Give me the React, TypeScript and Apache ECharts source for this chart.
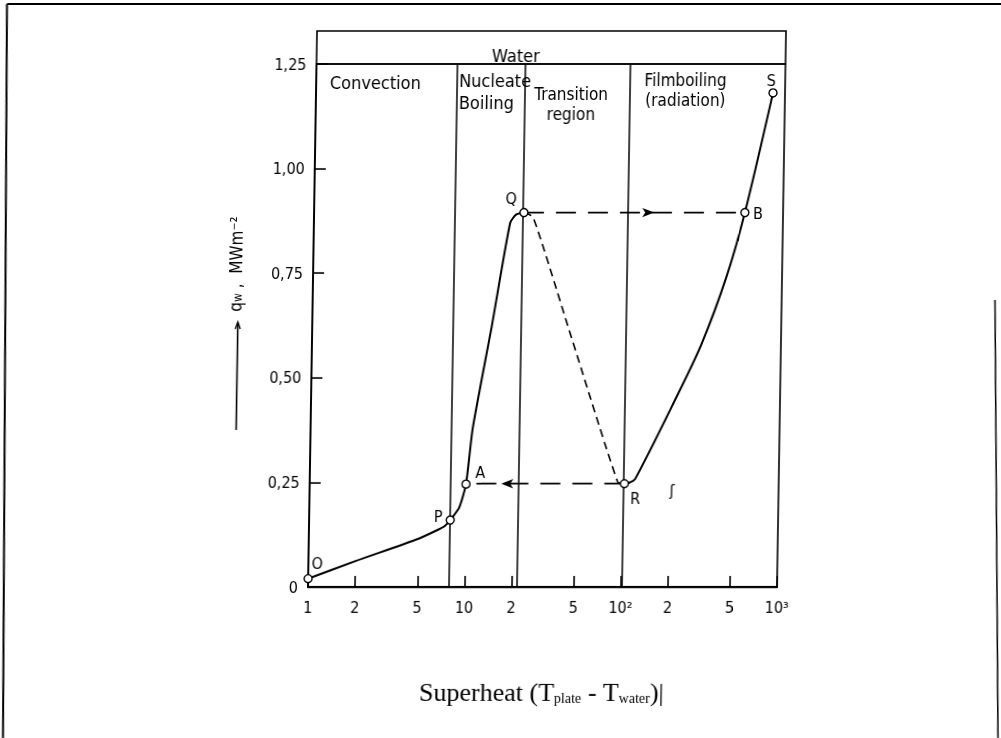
import React, { useEffect, useRef } from 'react';
import * as echarts from 'echarts';

// ---- layout constants (the scan is slightly sheared; we reproduce it with a CSS skew) ----
const OFF = 30; // canvas extends beyond the viewport so the sheared content is not clipped
const SKEW_DEG = 0.93;
const TAN = Math.tan((SKEW_DEG * Math.PI) / 180);
const AXIS_Y = 587; // page y of the x axis (skew origin)
const W = 1001 + 2 * OFF;
const H = 738;

// ---- data ----
const xTickValues = [1, 2, 5, 10, 20, 50, 100, 200, 500, 1000];
const xTickLabels = ['1', '2', '5', '10', '2', '5', '10²', '2', '5', '10³'];
const yTickLabels = ['0', '0,25', '0,50', '0,75', '1,00', '1,25'];
const regionBounds = [7.9, 21.8, 102];

const pointNames = ['O', 'P', 'A', 'Q', 'R', 'B', 'S'];
const pointX = [1, 8, 10, 22, 103, 570, 838];
const pointY = [0.02, 0.16, 0.246, 0.895, 0.247, 0.895, 1.181];

const nucleateX = [1, 2, 5, 6.7, 7.4, 8, 9.1, 10, 10.9, 14.1, 18, 19.6, 22];
const nucleateY = [0.02, 0.062, 0.115, 0.137, 0.146, 0.16, 0.19, 0.246, 0.38, 0.625, 0.87, 0.89, 0.895];
const transitionX = [22, 25.2, 45.3, 93.3, 103];
const transitionY = [0.895, 0.884, 0.6, 0.251, 0.247];
const filmX = [103, 112, 120.5, 213, 310, 440, 570, 838];
const filmY = [0.247, 0.25, 0.258, 0.447, 0.58, 0.74, 0.895, 1.181];
const qbX = [22, 570];
const qbY = [0.895, 0.895];
const raX = [103, 10];
const raY = [0.247, 0.247];
const arrowX = [150, 16.8];
const arrowY = [0.895, 0.247];

// ---- styles ----
const arrowRotate = [-90, 90];
const labelOffsets: Record<string, number[]> = {
  O: [9, -15],
  P: [-12, -4],
  A: [14, -12],
  Q: [-13, -14],
  R: [11, 15],
  B: [13, 1],
  S: [-2, -12],
};
const FONT = "'DejaVu Sans Condensed', 'DejaVu Sans', sans-serif";
const SERIF = "'Liberation Serif', 'DejaVu Serif', serif";

const zip = (xs: number[], ys: number[]) => xs.map((x, i) => [x, ys[i]]);
// convert a measured page position into pre-skew canvas x
const sx = (x: number, y: number) => x - (AXIS_Y - y) * TAN + OFF;

export default function App() {
  const ref = useRef<HTMLDivElement>(null);

  useEffect(() => {
    document.body.style.margin = '0';
    document.body.style.overflow = 'hidden';
    document.documentElement.style.overflow = 'hidden';
    const el = ref.current;
    if (!el) return;
    const chart = echarts.init(el, null, { renderer: 'svg' });
    const xTickLogs = xTickValues.map((v) => Math.log10(v));

    const txt = (text: string, x: number, y: number, align: string, size = 18, lineHeight = 18) => ({
      type: 'text',
      x,
      y,
      style: {
        text,
        fill: '#000',
        fontSize: size,
        fontFamily: FONT,
        lineHeight,
        align,
        verticalAlign: 'middle',
      },
    });

    const option: any = {
      animation: false,
      backgroundColor: '#fff',
      textStyle: { fontFamily: FONT, color: '#000' },
      grid: {
        left: sx(308, AXIS_Y),
        right: W - sx(777, AXIS_Y),
        top: 64,
        bottom: H - AXIS_Y,
        show: true,
        borderColor: '#000',
        borderWidth: 1.6,
        backgroundColor: 'transparent',
      },
      xAxis: [
        {
          type: 'log',
          logBase: 10,
          min: 1,
          max: 1000,
          axisLine: { show: true, onZero: false, lineStyle: { color: '#000', width: 2.2 } },
          axisTick: { show: false },
          axisLabel: { show: false },
          splitLine: { show: false },
          minorTick: { show: false },
        },
        {
          type: 'value',
          min: 0,
          max: 3,
          position: 'bottom',
          axisLine: { show: false },
          axisTick: {
            show: true,
            inside: true,
            length: 11,
            customValues: xTickLogs,
            lineStyle: { color: '#000', width: 1.6 },
          },
          axisLabel: {
            customValues: xTickLogs,
            color: '#000',
            fontSize: 16,
            fontFamily: FONT,
            margin: 12,
            formatter: (v: number) => {
              const i = xTickLogs.findIndex((t) => Math.abs(t - v) < 1e-6);
              return i >= 0 ? xTickLabels[i] : '';
            },
          },
          splitLine: { show: false },
        },
      ],
      yAxis: {
        type: 'value',
        min: 0,
        max: 1.25,
        interval: 0.25,
        axisLine: { show: true, lineStyle: { color: '#000', width: 1.8 } },
        axisTick: { show: true, inside: true, length: 11, lineStyle: { color: '#000', width: 1.6 } },
        axisLabel: {
          color: '#000',
          fontSize: 16,
          fontFamily: FONT,
          margin: 10,
          formatter: (_v: number, i: number) => yTickLabels[i],
        },
        splitLine: { show: false },
      },
      series: [
        {
          name: 'nucleate',
          type: 'line',
          xAxisIndex: 0,
          data: zip(nucleateX, nucleateY),
          showSymbol: false,
          symbol: 'none',
          smooth: 0.2,
          lineStyle: { color: '#000', width: 2 },
          markLine: {
            silent: true,
            symbol: 'none',
            label: { show: false },
            lineStyle: { color: '#000', type: 'solid', width: 1.5 },
            data: regionBounds.map((b) => ({ xAxis: b })),
          },
        },
        {
          name: 'transition',
          type: 'line',
          xAxisIndex: 0,
          data: zip(transitionX, transitionY),
          showSymbol: false,
          symbol: 'none',
          smooth: 0.2,
          lineStyle: { color: '#000', width: 1.6, type: [8, 5] },
        },
        {
          name: 'film',
          type: 'line',
          xAxisIndex: 0,
          data: zip(filmX, filmY),
          showSymbol: false,
          symbol: 'none',
          smooth: 0.3,
          lineStyle: { color: '#000', width: 2 },
        },
        {
          name: 'QB',
          type: 'line',
          xAxisIndex: 0,
          data: zip(qbX, qbY),
          showSymbol: false,
          symbol: 'none',
          lineStyle: { color: '#000', width: 1.7, type: [20, 12] },
        },
        {
          name: 'RA',
          type: 'line',
          xAxisIndex: 0,
          data: zip(raX, raY),
          showSymbol: false,
          symbol: 'none',
          lineStyle: { color: '#000', width: 1.7, type: [20, 12] },
        },
        {
          name: 'arrows',
          type: 'scatter',
          xAxisIndex: 0,
          data: arrowX.map((x, i) => ({ value: [x, arrowY[i]], symbolRotate: arrowRotate[i] })),
          symbol: 'arrow',
          symbolSize: [7, 12],
          itemStyle: { color: '#000', opacity: 1 },
          z: 5,
        },
        {
          name: 'points',
          type: 'scatter',
          xAxisIndex: 0,
          data: pointNames.map((n, i) => ({
            name: n,
            value: [pointX[i], pointY[i]],
            label: { offset: labelOffsets[n] },
          })),
          symbol: 'circle',
          symbolSize: 8,
          itemStyle: { color: '#fff', borderColor: '#000', borderWidth: 1.4, opacity: 1 },
          label: {
            show: true,
            position: 'inside',
            formatter: '{b}',
            color: '#000',
            opacity: 1,
            fontSize: 16,
            fontFamily: FONT,
          },
          z: 10,
        },
      ],
      graphic: [
        // outer frame of the scanned page
        { type: 'line', shape: { x1: sx(7, 4), y1: 4, x2: W, y2: 4 }, style: { stroke: '#000', lineWidth: 2 } },
        { type: 'line', shape: { x1: sx(7, 4), y1: 4, x2: sx(3, 738), y2: 738 }, style: { stroke: '#000', lineWidth: 2 } },
        { type: 'line', shape: { x1: sx(995, 300), y1: 300, x2: sx(998, 738), y2: 738 }, style: { stroke: '#000', lineWidth: 1.5 } },
        // header band
        {
          type: 'rect',
          shape: { x: sx(308, AXIS_Y), y: 31, width: sx(777, AXIS_Y) - sx(308, AXIS_Y), height: 33 },
          style: { fill: 'none', stroke: '#000', lineWidth: 1.6 },
        },
        txt('Water', sx(492, 55), 55, 'left'),
        txt('Convection', sx(330, 82), 82, 'left'),
        txt('Nucleate\nBoiling', sx(459, 91), 91, 'left', 18, 22),
        txt('Transition\nregion', sx(571, 104), 104, 'center', 17, 20),
        txt('Filmboiling\n(radiation)', sx(685.5, 90), 90, 'center', 17, 20),
        txt('ʃ', sx(672, 490), 490, 'center', 16),
        // x axis title
        {
          type: 'text',
          x: sx(541.5, 692),
          y: 692,
          style: {
            text: 'Superheat (T{sub|plate} - T{sub|water})|',
            fill: '#000',
            fontSize: 26,
            fontFamily: SERIF,
            align: 'center',
            verticalAlign: 'middle',
            rich: {
              sub: { fontSize: 14, fontFamily: SERIF, fill: '#000', verticalAlign: 'bottom', padding: [7, 0, 0, 0] },
            },
          },
        },
        // y axis title
        {
          type: 'text',
          x: sx(236, 264),
          y: 264,
          rotation: Math.PI / 2,
          style: {
            text: 'q{sub|w} ,  MWm⁻²',
            fill: '#000',
            fontSize: 17,
            fontFamily: FONT,
            align: 'center',
            verticalAlign: 'middle',
            rich: {
              sub: { fontSize: 12, fontFamily: FONT, fill: '#000', verticalAlign: 'bottom', padding: [5, 0, 0, 0] },
            },
          },
        },
        {
          type: 'line',
          shape: { x1: sx(237, 376), y1: 430, x2: sx(237, 376), y2: 323 },
          style: { stroke: '#000', lineWidth: 1.6 },
        },
        {
          type: 'polyline',
          shape: {
            points: [
              [sx(237, 376) - 2.5, 329],
              [sx(237, 376), 322],
              [sx(237, 376) + 2.5, 329],
            ],
          },
          style: { stroke: '#000', lineWidth: 1.3, fill: 'none' },
        },
      ],
    };

    chart.setOption(option);
    return () => chart.dispose();
  }, []);

  return (
    <div
      ref={ref}
      style={{
        position: 'fixed',
        left: -OFF,
        top: 0,
        width: W,
        height: H,
        transform: `skewX(-${SKEW_DEG}deg)`,
        transformOrigin: `0px ${AXIS_Y}px`,
      }}
    />
  );
}
